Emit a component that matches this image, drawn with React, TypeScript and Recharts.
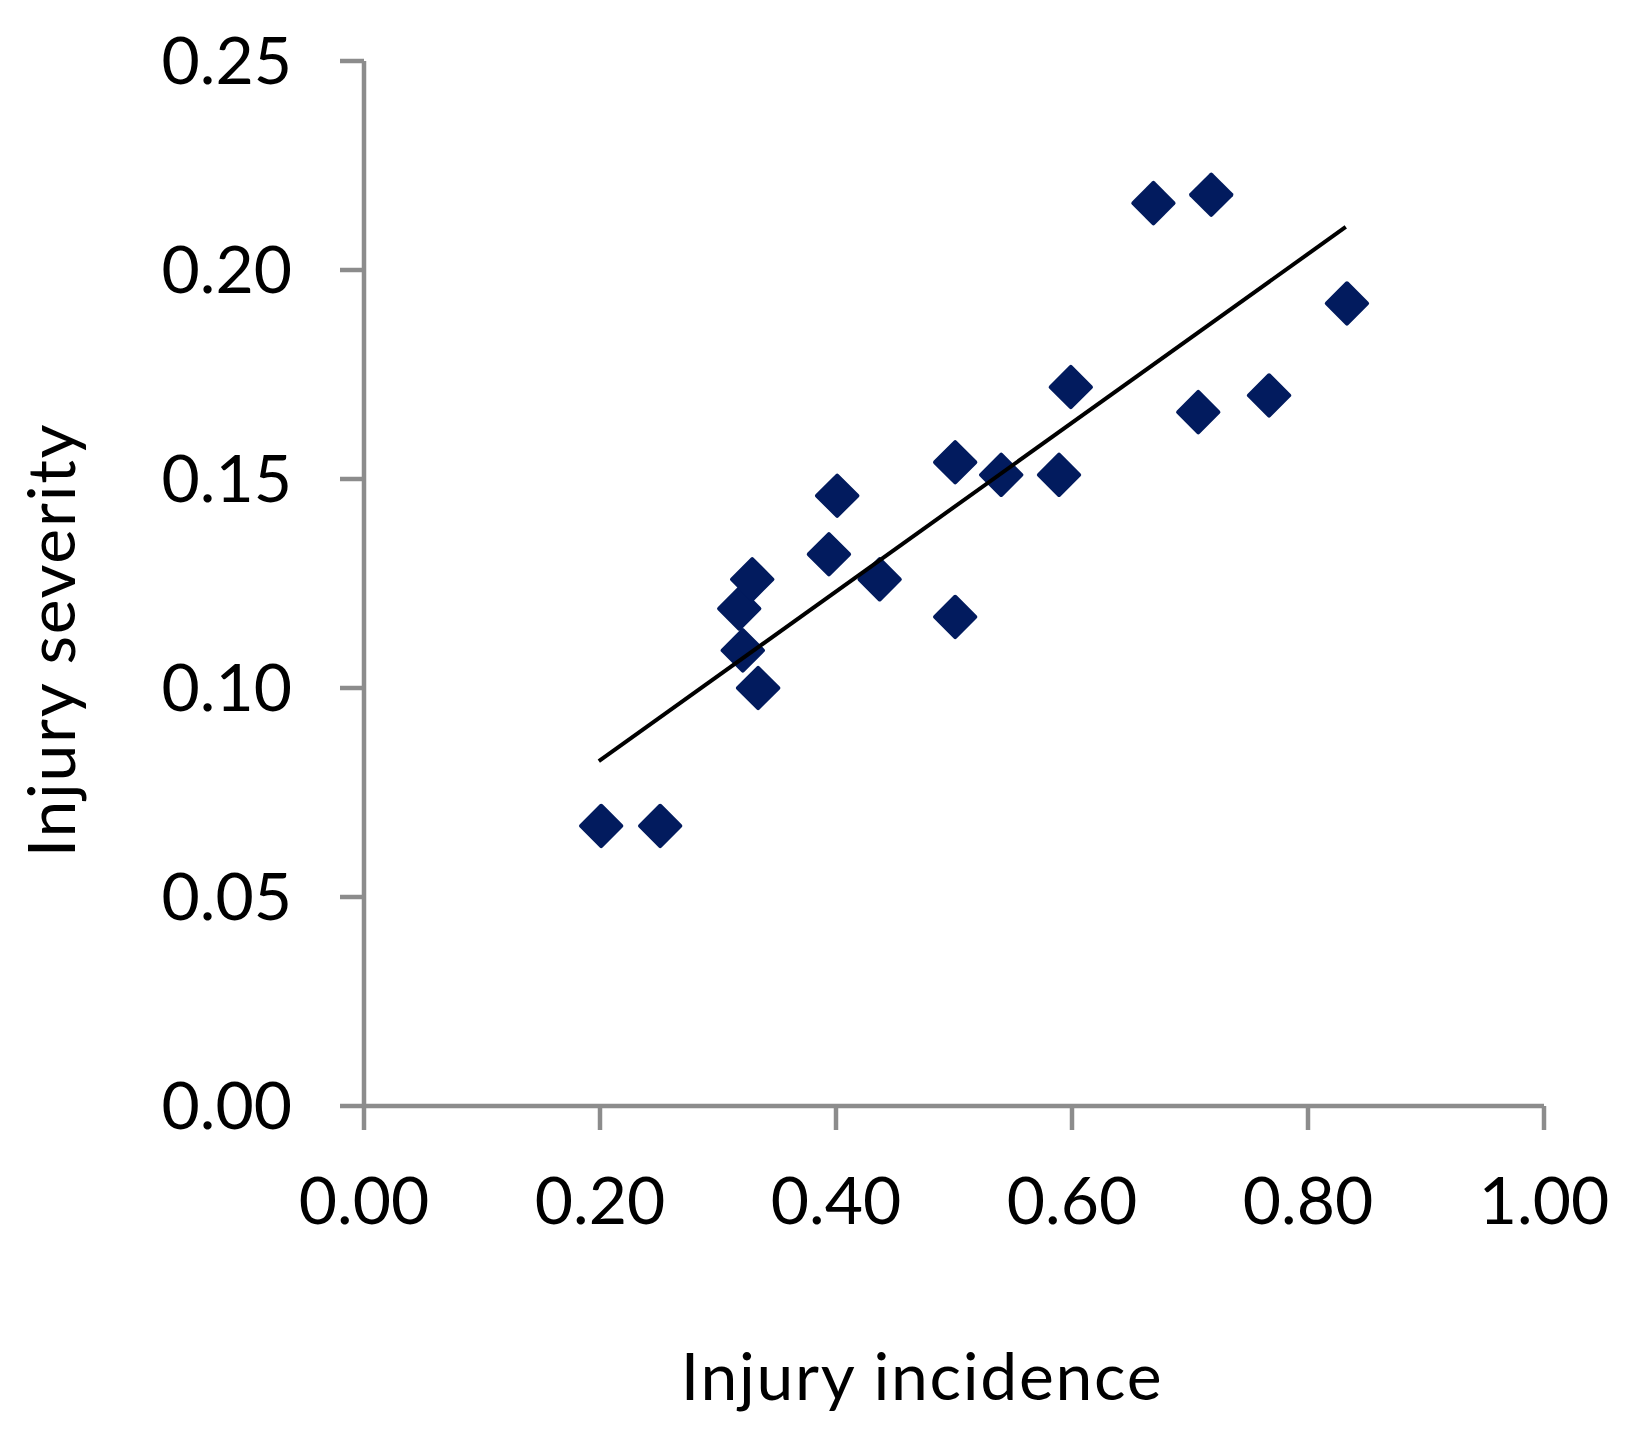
import React from 'react';
import { ScatterChart, Scatter, XAxis, YAxis } from 'recharts';

// injury incidence (x) vs injury severity (y), one point per team
const incidence = [
  0.201, 0.251, 0.318, 0.329, 0.321, 0.334, 0.394, 0.401, 0.437, 0.501,
  0.501, 0.540, 0.589, 0.599, 0.669, 0.718, 0.707, 0.767, 0.833,
];
const severity = [
  0.067, 0.067, 0.119, 0.126, 0.109, 0.100, 0.132, 0.146, 0.126, 0.154,
  0.117, 0.151, 0.151, 0.172, 0.216, 0.218, 0.166, 0.170, 0.192,
];

// linear trend line end points
const trendX = [0.199, 0.832];
const trendY = [0.0825, 0.2103];

const xTicks = [0, 0.2, 0.4, 0.6, 0.8, 1.0];
const yTicks = [0, 0.05, 0.1, 0.15, 0.2, 0.25];

const points = incidence.map((x, i) => ({ x, y: severity[i] }));
const trend = trendX.map((x, i) => ({ x, y: trendY[i] }));

const FONT = 'Lato, "Open Sans", sans-serif';
const AXIS = '#8c8c8c';
const MARK = '#021b5e';

const Diamond = (props: any) => {
  const { cx, cy } = props;
  if (cx == null || cy == null) return <g />;
  const s = 32.5;
  return (
    <rect
      x={cx - s / 2}
      y={cy - s / 2}
      width={s}
      height={s}
      rx={2}
      fill={MARK}
      transform={`rotate(45 ${cx} ${cy})`}
    />
  );
};

const tickStyle = { fill: '#000', fontSize: 66, fontFamily: FONT };

export default function App() {
  return (
    <div style={{ position: 'absolute', left: 0, top: 0, background: '#fff' }}>
      <ScatterChart
        width={1626}
        height={1430}
        margin={{ top: 61, right: 82, bottom: 0, left: 0 }}
      >
        <XAxis
          type="number"
          dataKey="x"
          domain={[0, 1]}
          ticks={xTicks}
          tickFormatter={(v: number) => v.toFixed(2)}
          height={324}
          tickSize={24}
          tickMargin={47}
          tick={tickStyle}
          axisLine={{ stroke: AXIS, strokeWidth: 4.5 }}
          tickLine={{ stroke: AXIS, strokeWidth: 4.5 }}
          label={{
            content: () => (
              <text
                x={922}
                y={1400}
                textAnchor="middle"
                fontSize={66}
                fontFamily={FONT}
                letterSpacing={1.7}
                fill="#000"
              >
                Injury incidence
              </text>
            ),
          }}
        />
        <YAxis
          type="number"
          dataKey="y"
          domain={[0, 0.25]}
          ticks={yTicks}
          tickFormatter={(v: number) => v.toFixed(2)}
          width={364}
          tickSize={24}
          tickMargin={48}
          tick={tickStyle}
          axisLine={{ stroke: AXIS, strokeWidth: 4.5 }}
          tickLine={{ stroke: AXIS, strokeWidth: 4.5 }}
          label={{
            content: () => (
              <text
                x={75}
                y={640}
                textAnchor="middle"
                fontSize={66}
                fontFamily={FONT}
                letterSpacing={1.7}
                fill="#000"
                transform="rotate(-90 75 640)"
              >
                Injury severity
              </text>
            ),
          }}
        />
        <Scatter data={points} shape={Diamond} isAnimationActive={false} />
        <Scatter
          data={trend}
          line={{ stroke: '#000', strokeWidth: 4 }}
          shape={() => <g />}
          isAnimationActive={false}
        />
      </ScatterChart>
    </div>
  );
}
